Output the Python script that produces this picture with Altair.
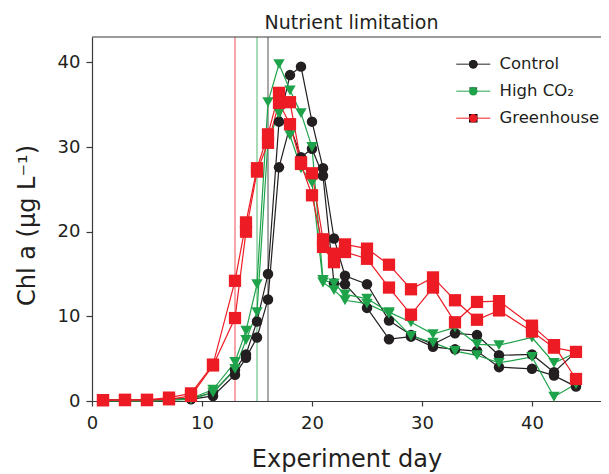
import altair as alt
import pandas as pd

days = [1, 3, 5, 7, 9, 11, 13, 14, 15, 16, 17, 18, 19, 20, 21, 22, 23, 25, 27, 29, 31, 33, 35, 37, 40, 42, 44]

control_a = [0.1, 0.1, 0.1, 0.2, 0.3, 1.0, 3.7, 5.5, 9.4, 15.0, 33.0, 38.5, 39.5, 33.0, 27.5, 19.2, 14.8, 13.8, 9.5, 7.8, 6.7, 8.0, 7.8, 5.4, 5.5, 3.4, 5.8]
control_b = [0.1, 0.1, 0.1, 0.2, 0.2, 0.6, 3.1, 5.1, 7.5, 12.0, 27.6, 32.5, 28.8, 29.8, 26.6, 13.9, 13.8, 11.0, 7.3, 7.6, 6.4, 6.1, 5.9, 4.0, 3.8, 3.0, 1.7]
high_a = [0.05, 0.05, 0.0, 0.1, 0.3, 1.35, 4.6, 8.3, 13.8, 35.3, 39.8, 36.7, 34.0, 30.0, 14.3, 13.9, 12.6, 12.1, 10.5, 9.3, 7.9, 8.7, 6.7, 6.6, 7.5, 4.5, 5.7]
high_b = [0.05, 0.05, 0.0, 0.1, 0.2, 1.0, 3.8, 7.2, 10.5, 30.8, 34.0, 31.4, 27.5, 25.8, 14.0, 13.1, 11.9, 11.5, 10.3, 7.7, 6.9, 5.9, 5.4, 4.5, 5.2, 0.5, 2.0]
green_a = [0.1, 0.15, 0.15, 0.4, 0.9, 4.3, 14.2, 21.1, 27.5, 31.5, 36.4, 35.3, 28.2, 26.9, 19.1, 17.4, 18.5, 18.0, 16.1, 13.2, 14.6, 11.9, 9.6, 10.7, 8.2, 6.3, 5.8]
green_b = [0.1, 0.1, 0.1, 0.2, 0.6, 4.2, 9.8, 20.0, 27.1, 30.5, 35.2, 32.7, 28.0, 24.3, 18.2, 16.4, 17.6, 16.8, 13.4, 10.2, 13.4, 9.3, 11.7, 11.8, 8.9, 6.6, 2.6]

treatments = ["Control", "High CO\u2082", "Greenhouse"]
onset_days = [16, 15, 13]
colors = ["#231f20", "#1fa34a", "#ed1c24"]
x_ticks = [0, 10, 20, 30, 40]
y_ticks = [0, 10, 20, 30, 40]
title_text = ["Nutrient limitation"]

rows = []
for t, reps in zip(treatments, [(control_a, control_b), (high_a, high_b), (green_a, green_b)]):
    for i, rep in enumerate(reps):
        for d, v in zip(days, rep):
            rows.append({"day": d, "chl": v, "treatment": t, "treatment2": t, "grp": f"{t}-{i}"})
df = pd.DataFrame(rows)
onset = pd.DataFrame({"day": onset_days, "treatment2": treatments})

W, H = 509, 364
FONT = "DejaVu Sans"
TXT = "#231f20"
AX = "#3a3a3a"

xscale = alt.Scale(domain=[0, W / 11.0], nice=False, zero=False)
yscale = alt.Scale(domain=[0, 43], nice=False)

xenc = alt.X("day:Q", scale=xscale,
             axis=alt.Axis(values=x_ticks, title="Experiment day", grid=False, tickSize=5,
                           labelFontSize=18, labelPadding=8, labelFlush=False, titleFontSize=24,
                           titleY=65, titleBaseline="alphabetic", format="d"))
yenc = alt.Y("chl:Q", scale=yscale,
             axis=alt.Axis(values=y_ticks, title="Chl a (\u03bcg L\u207b\u00b9)", grid=False, tickSize=6,
                           labelFontSize=18, labelPadding=6, labelFlush=False, titleFontSize=24,
                           titleX=-58, titleY=188, titleAngle=-90, titleAlign="center",
                           titleBaseline="alphabetic", format="d"))

LX, LY, RP = 373, 19, 10

stroke_legend = alt.Legend(title=None, orient="none", legendX=LX, legendY=LY, padding=0,
                           symbolType="M-3.4,0H3.4", symbolSize=100, symbolStrokeWidth=1.3,
                           labelFont=FONT, labelFontSize=16.5, labelColor=TXT, labelOffset=18,
                           rowPadding=RP)
point_legend = alt.Legend(title=None, orient="none", legendX=LX, legendY=LY, padding=0,
                          symbolSize=72, labelFont=FONT, labelFontSize=16.5, labelOpacity=0,
                          labelOffset=18, rowPadding=RP)

stroke = alt.Stroke("treatment2:N", scale=alt.Scale(domain=treatments, range=colors), legend=stroke_legend)

rules = alt.Chart(onset).mark_rule(strokeWidth=1.2, opacity=0.65).encode(
    x=alt.X("day:Q", scale=xscale), stroke=stroke)

lines = alt.Chart(df).mark_line(strokeWidth=1.2).encode(
    x=xenc, y=yenc, stroke=stroke, detail="grp:N")

points = alt.Chart(df).mark_point(filled=True, opacity=1).encode(
    x="day:Q", y="chl:Q",
    color=alt.Color("treatment:N", sort=treatments, scale=alt.Scale(range=colors), legend=point_legend),
    shape=alt.Shape("treatment:N", sort=treatments,
                    scale=alt.Scale(range=["circle", "triangle-down", "square"]), legend=point_legend),
    size=alt.Size("treatment:N", sort=treatments, scale=alt.Scale(range=[110, 150, 92]), legend=None),
)

frame = alt.Chart(pd.DataFrame({"a": [0]})).mark_rule(color=AX, strokeWidth=1.2).encode(
    x=alt.value(0), x2=alt.value(W), y=alt.value(0))

title = alt.Chart(pd.DataFrame({"t": title_text})).mark_text(
    font=FONT, fontSize=19, color=TXT, baseline="alphabetic", align="center").encode(
    text="t:N", x=alt.value(W / 2 + 5), y=alt.value(-8))

chart = alt.layer(rules, lines, points, frame, title).resolve_legend(color="independent").properties(
    width=W, height=H,
    padding={"left": 84, "top": 29, "right": 0, "bottom": 73},
    autosize=alt.AutoSizeParams(type="none"),
).configure_view(stroke=None).configure_axis(
    domainColor=AX, tickColor=AX, domainWidth=1.2, tickWidth=1.2,
    labelFont=FONT, titleFont=FONT, labelColor=TXT, titleColor=TXT, titleFontWeight="normal",
)

chart.save("out.html", embed_options={"renderer": "svg", "actions": False})
